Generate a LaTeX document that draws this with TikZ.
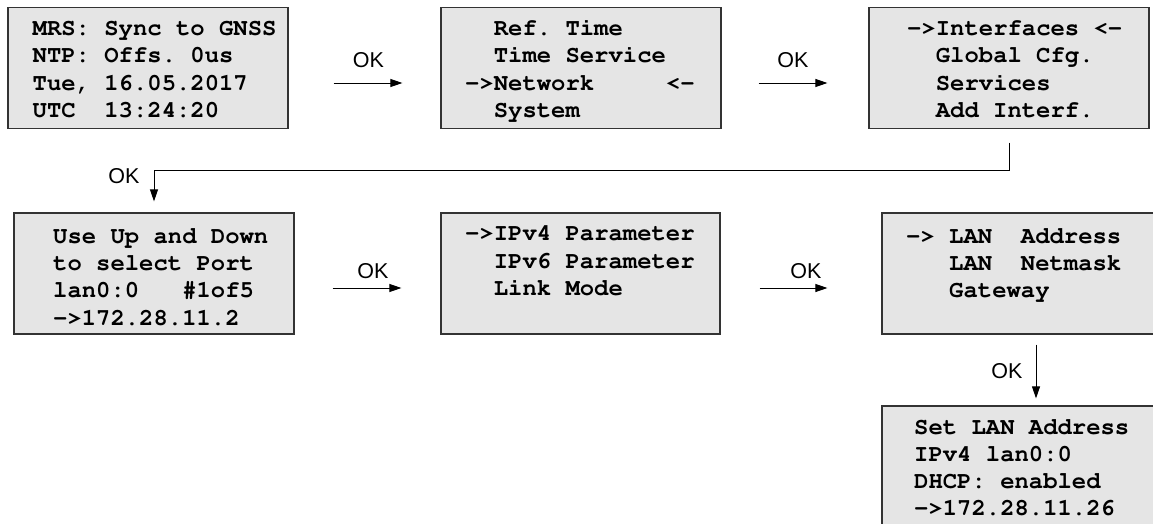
\documentclass[tikz,border=0pt]{standalone}
\usepackage{fontspec}
\setmainfont{Liberation Sans}
\newcommand\lcdfont{\fontencoding{T1}\fontfamily{pcr}\fontseries{b}\selectfont\frenchspacing}
\usetikzlibrary{arrows.meta}
\newcommand\lcdscr[1]{\vtop{\baselineskip=27.3pt\relax #1}}
\newcommand\lcdln[1]{\hbox{#1}}
\tikzset{
  box/.style={draw=black!80, line width=1.2pt, fill=black!10, minimum width=280pt, minimum height=121pt, inner sep=0pt, anchor=center},
  lcd/.style={inner sep=0pt, anchor=base west, font=\fontsize{23.9pt}{27.3pt}\lcdfont},
  oklab/.style={inner sep=0pt, anchor=base, font=\fontsize{21.5pt}{24pt}\selectfont},
  arr/.style={-{Triangle[length=12pt,width=8pt]}, line width=0.9pt, draw=black}
}
\begin{document}
\begin{tikzpicture}[x=1pt,y=-1pt]
\useasboundingbox (0,0) rectangle (1153,524);
\clip (0,0) rectangle (1153,524);
% boxes
\node[box] (b1) at (148,68) {};
\node[box] (b2) at (581,68) {};
\node[box] (b3) at (1009,68) {};
\node[box] (b4) at (154,273.5) {};
\node[box, minimum width=279pt] (b5) at (580.5,273.5) {};
\node[box, minimum width=308pt] (b6) at (1036,273.5) {};
\node[box, minimum width=308pt, minimum height=120pt] (b7) at (1036,466) {};
% texts
\node[lcd] (t1) at (32.5,35.7) {\lcdscr{\lcdln{MRS: Sync to GNSS}\lcdln{NTP: Offs. 0us}\lcdln{Tue, 16.05.2017}\lcdln{UTC~~13:24:20}}};
\node[lcd] (t2) at (465,35.7) {\lcdscr{\lcdln{~~Ref. Time}\lcdln{~~Time Service}\lcdln{-{}>Network~~~~~<-}\lcdln{~~System}}};
\node[lcd] (t3) at (907,35.7) {\lcdscr{\lcdln{-{}>Interfaces <-}\lcdln{~~Global Cfg.}\lcdln{~~Services}\lcdln{~~Add Interf.}}};
\node[lcd] (t4) at (53,243.3) {\lcdscr{\lcdln{Use Up and Down}\lcdln{to select Port}\lcdln{lan0:0~~~\#1of5}\lcdln{-{}>172.28.11.2}}};
\node[lcd] (t5) at (465,240.7) {\lcdscr{\lcdln{-{}>IPv4 Parameter}\lcdln{~~IPv6 Parameter}\lcdln{~~Link Mode}}};
\node[lcd] (t6) at (906,243.3) {\lcdscr{\lcdln{-{}>~LAN~~Address}\lcdln{~~~LAN~~Netmask}\lcdln{~~~Gateway}}};
\node[lcd] (t7) at (914,434) {\lcdscr{\lcdln{Set LAN Address}\lcdln{IPv4 lan0:0}\lcdln{DHCP: enabled}\lcdln{-{}>172.28.11.26}}};
% connectors
\draw[arr, shorten <=45pt, shorten >=38pt] ([yshift=-15pt]b1.east) -- ([yshift=-15pt]b2.west);
\draw[arr, shorten <=37pt, shorten >=41pt] ([yshift=-15pt]b2.east) -- ([yshift=-15pt]b3.west);
\draw[arr, shorten <=13.5pt, shorten >=11pt] (b3.south) -- ++(0,41.5) -| (b4.north);
\draw[arr, shorten <=38pt, shorten >=39pt] ([yshift=-14.5pt]b4.east) -- ([yshift=-14.5pt]b5.west);
\draw[arr, shorten <=39pt, shorten >=54pt] ([yshift=-14.5pt]b5.east) -- ([yshift=-14.5pt]b6.west);
\draw[arr, shorten <=10pt, shorten >=7pt] (b6.south) -- (b7.north);
% labels
\node[oklab] (ok1) at (368.5,68) {OK};
\node[oklab] (ok2) at (793,68) {OK};
\node[oklab] (ok3) at (124,183) {OK};
\node[oklab] (ok4) at (373,278) {OK};
\node[oklab] (ok5) at (806,278) {OK};
\node[oklab] (ok6) at (1007,378) {OK};
\end{tikzpicture}
\end{document}
